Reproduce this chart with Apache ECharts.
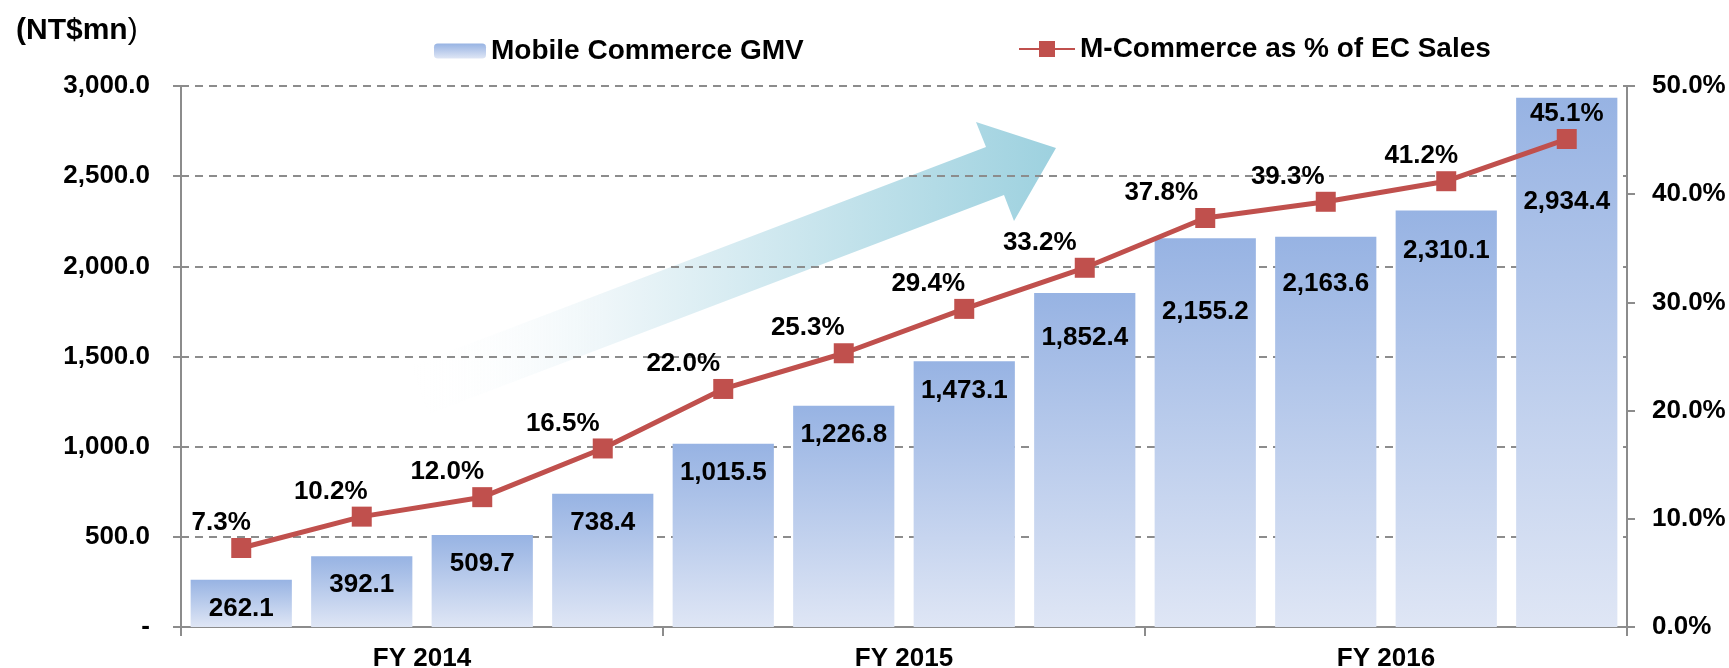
<!DOCTYPE html>
<html>
<head>
<meta charset="utf-8">
<title>Mobile Commerce GMV</title>
<script src="https://cdn.jsdelivr.net/npm/echarts@6/dist/echarts.min.js"></script>
<style>
  html, body { margin: 0; padding: 0; background: #fff; }
  #chart { width: 1729px; height: 668px; }
</style>
</head>
<body>
<div id="chart"></div>
<script>
// quarterly data, FY2014 - FY2016
const quarters = ['1Q14', '2Q14', '3Q14', '4Q14', '1Q15', '2Q15', '3Q15', '4Q15', '1Q16', '2Q16', '3Q16', '4Q16']
const fiscalYears = ['FY 2014', 'FY 2015', 'FY 2016']
const gmv = [262.1, 392.1, 509.7, 738.4, 1015.5, 1226.8, 1473.1, 1852.4, 2155.2, 2163.6, 2310.1, 2934.4]
const mShare = [7.3, 10.2, 12.0, 16.5, 22.0, 25.3, 29.4, 33.2, 37.8, 39.3, 41.2, 45.1]

// label nudges so they don't collide (like the excel original)
const barLabelDrop = [0, 0, 0, 0, 0, 0, 0, 16, 44, 18, 11, 75]
const lineLabelShift = [-20, -31, -35, -40, -40, -36, -36, -45, -44, -38, -25, 0]

const FONT = '"Liberation Sans", Arial, sans-serif'
const RED = '#c0504d'
const GREY = '#8c8c8c'

const myChart = echarts.init(document.getElementById('chart'))

const fmt1 = v => v.toLocaleString('en-US', { minimumFractionDigits: 1, maximumFractionDigits: 1 })

const barFill = new echarts.graphic.LinearGradient(0, 0, 0, 1, [
  { offset: 0, color: '#97b3e3' },
  { offset: 1, color: '#dfe6f5' }
])

// arrow decoration (tail -> tip)
const arrowPts = [
  [411, 366], [986, 147], [976, 122], [1056, 148],
  [1014, 221], [1004, 195], [429, 414]
]

const legendText = { fontFamily: FONT, fontWeight: 'bold', fontSize: 28, color: '#000' }

const option = {
  animation: false,
  title: {
    text: '{b|(NT$mn}{n|)}',
    left: 11,
    top: 11,
    textStyle: {
      rich: {
        b: { fontFamily: FONT, fontWeight: 'bold', fontSize: 30, color: '#000' },
        n: { fontFamily: FONT, fontWeight: 'normal', fontSize: 30, color: '#000' }
      }
    }
  },
  legend: [
    {
      left: 429,
      top: 32,
      itemWidth: 52,
      itemHeight: 15,
      itemGap: 6,
      textStyle: legendText,
      data: ['Mobile Commerce GMV']
    },
    {
      left: 1013,
      top: 30,
      itemWidth: 56,
      itemHeight: 20,
      textStyle: legendText,
      data: ['M-Commerce as % of EC Sales']
    }
  ],
  graphic: [
    {
      type: 'polygon',
      z: -10,
      shape: { points: arrowPts },
      style: {
        fill: new echarts.graphic.LinearGradient(0, 0, 1, 0, [
          { offset: 0, color: 'rgba(255,255,255,0)' },
          { offset: 0.3, color: '#eef6f9' },
          { offset: 1, color: '#9dd1df' }
        ])
      }
    }
  ],
  grid: {
    left: 181,
    right: 102,
    top: 86,
    bottom: 41,
    outerBoundsMode: 'none'
  },
  xAxis: [
    {
      type: 'category',
      data: quarters,
      axisLine: { lineStyle: { color: GREY, width: 2 } },
      axisTick: { show: false },
      axisLabel: { show: false }
    },
    {
      type: 'category',
      data: fiscalYears,
      position: 'bottom',
      axisLine: { lineStyle: { color: GREY, width: 2 } },
      axisTick: { show: true, length: 9, lineStyle: { color: GREY, width: 2 } },
      axisLabel: {
        margin: 19,
        fontFamily: FONT,
        fontWeight: 'bold',
        fontSize: 26,
        color: '#000'
      }
    }
  ],
  yAxis: [
    {
      type: 'value',
      min: 0,
      max: 3000,
      interval: 500,
      axisLine: { show: true, lineStyle: { color: GREY, width: 2 } },
      axisTick: { show: true, length: 8, lineStyle: { color: GREY, width: 2 } },
      splitLine: { lineStyle: { color: GREY, width: 2, type: [8, 6] } },
      axisLabel: {
        margin: 31,
        fontFamily: FONT,
        fontWeight: 'bold',
        fontSize: 26,
        color: '#000',
        formatter: v => (v === 0 ? '-' : fmt1(v))
      }
    },
    {
      type: 'value',
      min: 0,
      max: 50,
      interval: 10,
      position: 'right',
      axisLine: { show: true, lineStyle: { color: GREY, width: 2 } },
      axisTick: { show: true, length: 8, lineStyle: { color: GREY, width: 2 } },
      splitLine: { show: false },
      axisLabel: {
        margin: 25,
        fontFamily: FONT,
        fontWeight: 'bold',
        fontSize: 26,
        color: '#000',
        formatter: v => v.toFixed(1) + '%'
      }
    }
  ],
  series: [
    {
      name: 'Mobile Commerce GMV',
      type: 'bar',
      xAxisIndex: 0,
      yAxisIndex: 0,
      barCategoryGap: '16%',
      itemStyle: { color: barFill },
      label: {
        show: true,
        position: 'insideTop',
        distance: 16,
        fontFamily: FONT,
        fontWeight: 'bold',
        fontSize: 26,
        color: '#000',
        formatter: p => fmt1(p.value)
      },
      data: gmv.map((v, i) => ({
        value: v,
        label: { offset: [0, barLabelDrop[i]] }
      }))
    },
    {
      name: 'M-Commerce as % of EC Sales',
      type: 'line',
      xAxisIndex: 0,
      yAxisIndex: 1,
      symbol: 'rect',
      symbolSize: 20,
      color: RED,
      lineStyle: { color: RED, width: 5 },
      itemStyle: { color: RED },
      z: 5,
      label: {
        show: true,
        position: 'top',
        distance: 2,
        fontFamily: FONT,
        fontWeight: 'bold',
        fontSize: 26,
        color: '#000',
        formatter: p => p.value.toFixed(1) + '%'
      },
      data: mShare.map((v, i) => ({
        value: v,
        label: { offset: [lineLabelShift[i], 0] }
      }))
    }
  ]
}

myChart.setOption(option)

window.addEventListener('resize', () => {
  myChart.resize()
})
</script>
</body>
</html>
